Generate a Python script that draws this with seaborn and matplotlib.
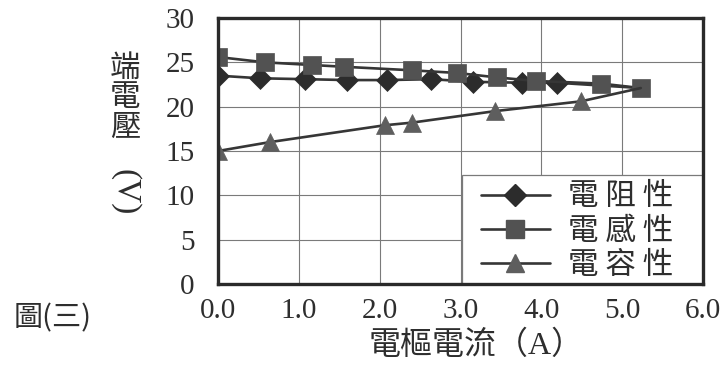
import matplotlib
matplotlib.use("Agg")
import matplotlib.pyplot as plt
from matplotlib.font_manager import FontProperties
from matplotlib.lines import Line2D
from matplotlib.patches import Rectangle
import pandas as pd
import seaborn as sns

# Terminal voltage vs. armature current for three load types
resistive_current = [0.0, 0.52, 1.08, 1.60, 2.09, 2.64, 3.16, 3.76, 4.19, 5.23]
resistive_voltage = [23.5, 23.2, 23.1, 23.0, 23.0, 23.1, 22.8, 22.7, 22.7, 22.1]

inductive_current = [0.0, 0.58, 1.16, 1.56, 2.40, 2.96, 3.45, 3.93, 4.74, 5.23]
inductive_voltage = [25.6, 25.0, 24.7, 24.5, 24.1, 23.8, 23.3, 22.9, 22.6, 22.1]

capacitive_current = [0.0, 0.64, 2.06, 2.40, 3.43, 4.49, 5.23]
capacitive_voltage = [15.0, 16.0, 17.9, 18.2, 19.5, 20.6, 22.1]

series_names = ["電阻性", "電感性", "電容性"]
legend_labels = ["電 阻 性", "電 感 性", "電 容 性"]
x_ticks = [0, 1, 2, 3, 4, 5, 6]
x_tick_labels = ["0.0", "1.0", "2.0", "3.0", "4.0", "5.0", "6.0"]
y_ticks = [0, 5, 10, 15, 20, 25, 30]
x_label = "電樞電流（A）"
y_label_chars = "端\n電\n壓"
y_label_unit = "(V)"
caption = "圖(三)"

sns.set_style("white")
plt.rcParams["font.family"] = ["Liberation Serif", "Noto Sans CJK TC", "DejaVu Sans"]

W, H = 724, 367
AX_L, AX_R, AX_T, AX_B = 218, 703, 18, 284
fig = plt.figure(figsize=(W / 100, H / 100), dpi=100)
fig.patch.set_facecolor("white")
ax = fig.add_axes([AX_L / W, 1 - AX_B / H, (AX_R - AX_L) / W, (AX_B - AX_T) / H])

text_color = "#2e2e2e"
line_color = "#363636"

styles = [
    dict(marker="D", markersize=11, mfc="#2c2c2c", mec="#2c2c2c"),
    dict(marker="s", markersize=12.5, mfc="#525252", mec="#525252"),
    dict(marker="^", markersize=12.5, mfc="#5e5e5e", mec="#5e5e5e"),
]
datasets = [
    (resistive_current, resistive_voltage),
    (inductive_current, inductive_voltage),
    (capacitive_current, capacitive_voltage),
]

for name, (xs, ys), st in zip(series_names, datasets, styles):
    df = pd.DataFrame({"current": xs, "voltage": ys})
    # the shared end point is drawn as a square marker only
    every = list(range(len(xs))) if name == "電感性" else list(range(len(xs) - 1))
    sns.lineplot(data=df, x="current", y="voltage", ax=ax, color=line_color,
                 linewidth=1.9, marker=st["marker"], markersize=st["markersize"],
                 markerfacecolor=st["mfc"], markeredgecolor=st["mec"],
                 markeredgewidth=0.5, markevery=every, legend=False, sort=False)

ax.set_xlim(0, 6)
ax.set_ylim(0, 30)
ax.set_xticks(x_ticks)
ax.set_xticklabels(x_tick_labels)
ax.set_yticks(y_ticks)
ax.grid(True, color="#7a7a7a", linewidth=0.8)
ax.set_axisbelow(True)
ax.tick_params(axis="both", length=0, labelsize=21, colors=text_color)
ax.tick_params(axis="x", pad=10)
ax.tick_params(axis="y", pad=17)
for lab in ax.get_xticklabels() + ax.get_yticklabels():
    lab.set_family("Liberation Serif")
for sp in ax.spines.values():
    sp.set_visible(True)
    sp.set_color("#2a2a2a")
    sp.set_linewidth(2.4)
ax.set_xlabel("")
ax.set_ylabel("")

def ax_frac(px, py):
    return (px - AX_L) / (AX_R - AX_L), (AX_B - py) / (AX_B - AX_T)

# legend box in the lower-right corner
bx0, by0 = ax_frac(462, AX_B)
bx1, by1 = ax_frac(AX_R, 175)
ax.add_patch(Rectangle((bx0, by0), bx1 - bx0, by1 - by0, transform=ax.transAxes,
                       facecolor="white", edgecolor="#7a7a7a", linewidth=0.9,
                       zorder=2.3, clip_on=False))

legend_handles = [
    Line2D([0], [0], color=line_color, linewidth=1.9, marker=st["marker"],
           markersize=st["markersize"], markerfacecolor=st["mfc"],
           markeredgecolor=st["mec"])
    for st in styles
]
leg = ax.legend(legend_handles, legend_labels, loc="center",
                bbox_to_anchor=ax_frac(577, 231), frameon=False,
                handlelength=2.25, handletextpad=0.6, labelspacing=0.1,
                borderpad=0.0, borderaxespad=0,
                prop=FontProperties(family=["Noto Sans CJK TC"], size=22))
for t in leg.get_texts():
    t.set_color(text_color)
leg.set_zorder(2.4)

# axis titles
fig.text(476 / W, 1 - 346 / H, x_label, ha="center", va="center", fontsize=23,
         color=text_color, family=["Liberation Serif", "Noto Sans CJK TC"])
fig.text(125 / W, 1 - 98 / H, y_label_chars, ha="center", va="center",
         fontsize=22, color=text_color, linespacing=0.95,
         family=["Noto Sans CJK TC"])
fig.text(125 / W, 1 - 192 / H, y_label_unit, ha="center", va="center",
         fontsize=24, color=text_color, rotation=-90,
         family=["Liberation Serif"])
fig.text(53 / W, 1 - 318 / H, caption, ha="center", va="center", fontsize=21,
         color=text_color, family=["Noto Sans CJK TC", "Liberation Serif"])

fig.savefig("out.png", dpi=100, facecolor="white")
